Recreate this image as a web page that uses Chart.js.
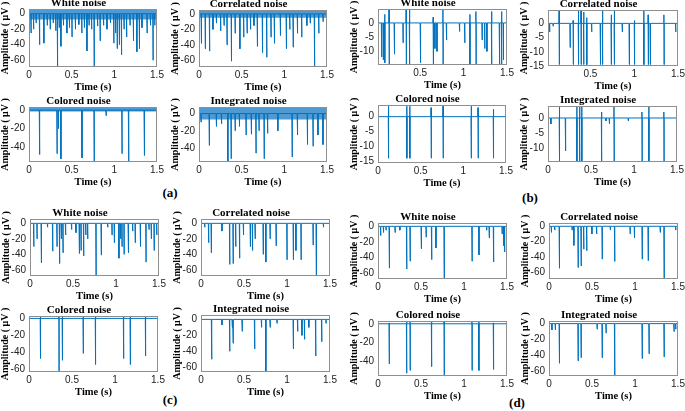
<!DOCTYPE html>
<html>
<head>
<meta charset="utf-8">
<script src="https://cdn.jsdelivr.net/npm/chart.js@4.4.1/dist/chart.umd.min.js"></script>
<style>
  body { margin: 0; width: 685px; height: 411px; position: relative; overflow: hidden; background: #fff; }
  canvas { position: absolute; }
  .lab { position: absolute; font: bold 13px 'Liberation Serif', serif; transform: translate(-50%, -50%); }
</style>
</head>
<body>
<div class="lab" style="left:170px;top:193px">(a)</div>
<div class="lab" style="left:530px;top:198px">(b)</div>
<div class="lab" style="left:170px;top:400px">(c)</div>
<div class="lab" style="left:517px;top:403px">(d)</div>
<script>
// spikes: [time (s), trough (µV), peak (µV, optional)]
// noise: [upper, lower] edge of the dense noise floor

// (a)
const aWhiteSpikes = [[0.02,-25],[0.05,-20],[0.08,-12],[0.12,-40],[0.17,-38],[0.21,-15],[0.245,-20],[0.28,-12],[0.31,-22],[0.33,-68],[0.35,-18],[0.37,-42],[0.40,-15],[0.44,-25],[0.47,-18],[0.5,-30],[0.54,-20],[0.58,-14],[0.615,-25],[0.645,-18],[0.675,-48],[0.70,-15],[0.73,-20],[0.76,-68],[0.80,-16],[0.83,-35],[0.87,-15],[0.91,-20],[0.95,-12],[0.99,-38],[1.01,-25],[1.03,-45],[1.055,-40],[1.08,-53],[1.11,-20],[1.14,-30],[1.18,-15],[1.22,-35],[1.26,-49],[1.29,-45],[1.32,-18],[1.38,-25],[1.42,-15],[1.45,-60],[1.47,-15]];
const aWhiteNoise = [5, -7.5];
const aCorrSpikes = [[0.024,-38],[0.07,-45],[0.12,-48],[0.16,-20],[0.2,-12],[0.25,-22],[0.29,-15],[0.325,-40],[0.376,-61],[0.42,-25],[0.475,-45],[0.52,-30],[0.56,-25],[0.6,-20],[0.64,-15],[0.68,-42],[0.74,-50],[0.79,-56],[0.84,-30],[0.88,-38],[0.95,-28],[1.02,-45],[1.06,-20],[1.1,-43],[1.15,-25],[1.2,-30],[1.26,-15],[1.3,-12],[1.35,-68],[1.4,-25],[1.45,-10]];
const aCorrNoise = [4, -5];
const aColoredSpikes = [[0.12,-48],[0.325,-47],[0.34,-20],[0.37,-52.7],[0.617,-51.6],[0.76,-56],[0.9,-6],[1.086,-47],[1.164,-56],[1.348,-49]];
const aColoredNoise = [3, -1.5];
const aIntegSpikes = [[0.02,-10],[0.117,-37],[0.2,-15],[0.26,-12],[0.334,-56],[0.373,-52.5],[0.42,-20],[0.47,-15],[0.548,-25],[0.61,-24],[0.664,-46],[0.7,-20],[0.76,-52.5],[0.8,-23],[0.92,-20],[1.088,-50.5],[1.15,-25],[1.267,-36],[1.333,-38],[1.39,-25],[1.449,-36]];
const aIntegNoise = [7, -7];

// (b)
const bWhiteSpikes = [[0.053,-12],[0.072,-13],[0.09,-14,3],[0.14,-14.5,4.9],[0.2,-11],[0.3,-7],[0.337,-14.5,4.9],[0.375,-14.5,4.9],[0.5,-14],[0.648,-14.5,2],[0.666,-9],[0.69,-10],[0.76,-14.5,4.9],[0.8,-6],[0.95,-3],[1.01,-7],[1.07,-14.5,3],[1.14,-14.5,4],[1.21,-6],[1.24,-9],[1.265,-10],[1.32,-14.5,4],[1.41,-14.5],[1.435,-14.5,4],[1.455,-13]];
const bCorrSpikes = [[0.03,-3],[0.07,-1],[0.14,-14.5,4.5],[0.264,-8.5],[0.3,-14.5,1],[0.36,-14.5,4.5],[0.39,-14.5,4.5],[0.42,-14.5,4],[0.455,-14.5,2],[0.51,-3],[0.61,-14.5],[0.635,-14.5,4.5],[0.735,-14.5,3],[0.77,-14.5,4.5],[0.86,-3],[0.94,-14.5],[1.0,-14.5,1],[1.107,-14.5,4.5],[1.157,-14.5,3],[1.18,-14.5],[1.337,-14.5,3],[1.47,-3]];
const bColoredSpikes = [[0.12,-13.9,3.5],[0.335,-13.9,3.5],[0.37,-13.9,3.5],[0.62,-13.9,3],[0.76,-13.9,3.5],[1.09,-13.9,3.5],[1.17,-13.9,3],[1.35,-13.9,2.5]];
const bIntegSpikes = [[0.03,-2],[0.13,-14.5,4],[0.2,-11],[0.333,-14.5,4],[0.365,-14.5,4],[0.39,-14.5,4],[0.62,-14.5,2],[0.67,-1],[0.71,-2],[0.765,-14.5,4],[0.93,-1],[1.09,-14.5,2],[1.17,-14.5,4],[1.345,-14.5,2]];

// (c)
const cWhiteSpikes = [[0.04,-30],[0.078,-20],[0.128,-51],[0.2,-5],[0.26,-36],[0.31,-30],[0.34,-52],[0.36,-20],[0.38,-38],[0.41,-15],[0.48,-8],[0.53,-12],[0.57,-39],[0.59,-35],[0.62,-42],[0.645,-15],[0.667,-20],[0.764,-68],[0.825,-41],[0.9,-5],[0.95,-15],[0.977,-25],[1.03,-45],[1.05,-20],[1.066,-30],[1.09,-40],[1.14,-38],[1.19,-10],[1.22,-25],[1.28,-30],[1.345,-50],[1.38,-8],[1.407,-20],[1.44,-35],[1.47,-15]];
const cCorrSpikes = [[0.04,-5],[0.085,-25],[0.116,-38],[0.24,-10],[0.33,-53],[0.37,-52],[0.4,-30],[0.445,-45],[0.49,-15],[0.57,-30],[0.595,-35],[0.626,-20],[0.72,-40],[0.75,-50],[0.8,-20],[0.87,-29],[0.996,-47],[1.07,-47],[1.1,-35],[1.16,-47],[1.3,-28],[1.337,-68],[1.42,-5]];
const cColoredSpikes = [[0.13,-47,2],[0.345,-62.7,2.8],[0.385,-49,2.8],[0.628,-41,2.8],[0.77,-54,2.8],[1.097,-47,2.8],[1.175,-54,2.5],[1.352,-44,2]];
const cIntegSpikes = [[0.12,-50],[0.24,-7],[0.33,-40],[0.36,-10],[0.37,-30],[0.475,-15],[0.62,-37],[0.7,-10],[0.75,-66],[0.8,-10],[0.88,-5],[1.07,-37],[1.12,-15],[1.17,-20],[1.2,-25],[1.25,-10],[1.33,-46],[1.4,-28],[1.45,-5]];

// (d)
const dWhiteSpikes = [[0.027,-12],[0.06,-8],[0.09,-5],[0.128,-54],[0.195,-8],[0.25,-5],[0.33,-55],[0.37,-45],[0.5,-29],[0.556,-14],[0.62,-43],[0.67,-28],[0.766,-68],[1.09,-45],[1.17,-37],[1.26,-5],[1.29,-15],[1.34,-46],[1.44,-10],[1.46,-25],[1.47,-33]];
const dCorrSpikes = [[0.024,-8],[0.063,-5],[0.117,-55],[0.265,-5],[0.285,-25],[0.335,-54],[0.37,-52],[0.4,-30],[0.435,-32],[0.495,-10],[0.55,-10],[0.615,-43],[0.71,-5],[0.76,-46],[0.94,-10],[0.99,-15],[1.08,-43],[1.15,-45],[1.29,-8],[1.335,-69],[1.47,-5]];
const dColoredSpikes = [[0.128,-43,1],[0.33,-53,3],[0.37,-50,3],[0.62,-46,3],[0.766,-56,3],[1.09,-50,3],[1.17,-50,3],[1.34,-49,1]];
const dIntegSpikes = [[0.03,-8],[0.07,-8],[0.117,-50],[0.335,-47],[0.37,-43],[0.556,-7],[0.615,-43],[0.66,-12],[0.76,-66],[1.08,-44],[1.16,-38],[1.335,-42],[1.45,-10],[1.47,-7]];

// axis limits per panel: [xMin, xMax], [yMin, yMax], y tick step
const panels = [
  { key: 'aW', title: 'White noise',      spikes: aWhiteSpikes,   noise: aWhiteNoise,   x: [0, 1.5],     y: [-68.7, 6],   step: 20 },
  { key: 'aC', title: 'Correlated noise', spikes: aCorrSpikes,    noise: aCorrNoise,    x: [0, 1.5],     y: [-68.5, 5],   step: 20 },
  { key: 'aO', title: 'Colored noise',    spikes: aColoredSpikes, noise: aColoredNoise, x: [0, 1.5],     y: [-56, 3.4],   step: 20 },
  { key: 'aI', title: 'Integrated noise', spikes: aIntegSpikes,   noise: aIntegNoise,   x: [0, 1.5],     y: [-56.3, 7.6], step: 20 },
  { key: 'bW', title: 'White noise',      spikes: bWhiteSpikes,   x: [0.015, 1.5], y: [-14.8, 4.9], step: 5 },
  { key: 'bC', title: 'Correlated noise', spikes: bCorrSpikes,    x: [0.015, 1.5], y: [-15, 4.7],   step: 5 },
  { key: 'bO', title: 'Colored noise',    spikes: bColoredSpikes, x: [0, 1.5],     y: [-15.5, 3.9], step: 5 },
  { key: 'bI', title: 'Integrated noise', spikes: bIntegSpikes,   x: [0, 1.5],     y: [-14.7, 4],   step: 5 },
  { key: 'cW', title: 'White noise',      spikes: cWhiteSpikes,   x: [0, 1.5],     y: [-68, 5.6],   step: 20 },
  { key: 'cC', title: 'Correlated noise', spikes: cCorrSpikes,    x: [0, 1.5],     y: [-68, 5.6],   step: 20 },
  { key: 'cO', title: 'Colored noise',    spikes: cColoredSpikes, x: [0, 1.5],     y: [-62.7, 2.8], step: 20 },
  { key: 'cI', title: 'Integrated noise', spikes: cIntegSpikes,   x: [0, 1.5],     y: [-66, 5.5],   step: 20 },
  { key: 'dW', title: 'White noise',      spikes: dWhiteSpikes,   x: [0, 1.5],     y: [-68, 4.3],   step: 20 },
  { key: 'dC', title: 'Correlated noise', spikes: dCorrSpikes,    x: [0, 1.5],     y: [-69, 4.3],   step: 20 },
  { key: 'dO', title: 'Colored noise',    spikes: dColoredSpikes, x: [0, 1.5],     y: [-56, 3],     step: 20 },
  { key: 'dI', title: 'Integrated noise', spikes: dIntegSpikes,   x: [0, 1.5],     y: [-66, 3.3],   step: 20 },
];

// plot box on the page: left, top, right, bottom (px)
const boxes = {
  aW: [29, 9, 157, 67],   aC: [199, 10, 327, 67],  aO: [29, 107, 157, 162], aI: [199, 107, 327, 162],
  bW: [378, 9, 507, 65],  bC: [548, 10, 678, 66],  bO: [378, 105, 506, 163], bI: [548, 106, 677, 162],
  cW: [30, 219, 159, 276], cC: [201, 219, 330, 276], cO: [29, 316, 158, 372], cI: [201, 315, 330, 372],
  dW: [378, 223, 507, 279], dC: [549, 223, 678, 279], dO: [378, 321, 507, 376], dI: [549, 321, 678, 376],
};

const Y_W = 29, T_H = 11, X_H = 27, R_PAD = 9;
const BLUE = '#0072BD';

const boxBorder = {
  id: 'boxBorder',
  afterDraw(chart) {
    const { ctx, chartArea: a } = chart;
    ctx.save();
    ctx.strokeStyle = '#8f8f8f';
    ctx.lineWidth = 1;
    ctx.strokeRect(Math.round(a.left) + 0.5, Math.round(a.top) + 0.5, Math.round(a.width) - 1, Math.round(a.height) - 1);
    ctx.restore();
  }
};

function trace(spikes, x0, x1) {
  const pts = [{ x: x0, y: 0 }];
  spikes.slice().sort((p, q) => p[0] - q[0]).forEach(([t, lo, hi]) => {
    pts.push({ x: t, y: 0 });
    if (hi !== undefined) pts.push({ x: t + 0.002, y: hi });
    pts.push({ x: t + 0.004, y: lo }, { x: t + 0.006, y: 0 });
  });
  pts.push({ x: x1, y: 0 });
  return pts;
}

const serif = 'Liberation Serif';
const sans = 'Liberation Sans';
const plainNum = v => String(Math.round(v * 100) / 100);

panels.forEach(p => {
  const [l, t, r, b] = boxes[p.key];
  const w = r - l + Y_W + R_PAD, h = b - t + T_H + X_H;
  const c = document.createElement('canvas');
  c.width = w; c.height = h;
  c.style.left = (l - Y_W) + 'px';
  c.style.top = (t - T_H) + 'px';
  c.style.width = w + 'px';
  c.style.height = h + 'px';
  document.body.appendChild(c);

  const datasets = [{
    data: trace(p.spikes, p.x[0], p.x[1]),
    borderColor: BLUE, borderWidth: 1, pointRadius: 0, fill: false, order: 0
  }];
  if (p.noise) {
    datasets.push(
      { data: [{ x: p.x[0], y: p.noise[0] }, { x: p.x[1], y: p.noise[0] }],
        borderColor: 'transparent', borderWidth: 0, pointRadius: 0, fill: false, order: 1 },
      { data: [{ x: p.x[0], y: p.noise[1] }, { x: p.x[1], y: p.noise[1] }],
        borderColor: 'transparent', borderWidth: 0, pointRadius: 0,
        fill: '-1', backgroundColor: 'rgba(20,120,195,0.75)', order: 1 }
    );
  }

  new Chart(c, {
    type: 'line',
    data: { datasets },
    plugins: [boxBorder],
    options: {
      responsive: false,
      animation: false,
      layout: { padding: { left: 0, right: R_PAD, top: 0, bottom: 0 } },
      plugins: {
        legend: { display: false },
        tooltip: { enabled: false },
        title: {
          display: true, text: p.title, color: '#000',
          font: { family: serif, size: 11, weight: 'bold', lineHeight: 1 },
          padding: { top: 0, bottom: 0 }
        }
      },
      scales: {
        x: {
          type: 'linear', min: p.x[0], max: p.x[1],
          grid: { display: false, drawTicks: false },
          border: { display: false },
          ticks: { stepSize: 0.5, includeBounds: false, maxRotation: 0, autoSkip: false, padding: 2,
                   color: '#222', font: { family: sans, size: 10 }, callback: plainNum },
          title: { display: true, text: 'Time (s)', color: '#000',
                   font: { family: serif, size: 10.5, weight: 'bold', lineHeight: 1 }, padding: { top: 0, bottom: 1.5 } },
          afterFit: s => { s.height = X_H; }
        },
        y: {
          min: p.y[0], max: p.y[1],
          grid: { display: false, drawTicks: false },
          border: { display: false },
          ticks: { stepSize: p.step, includeBounds: false, autoSkip: false, padding: 4,
                   color: '#222', font: { family: sans, size: 10 }, callback: plainNum },
          title: { display: true, text: 'Amplitude ( μV )', color: '#000',
                   font: { family: serif, size: 10, weight: 'bold', lineHeight: 1 }, padding: { top: 0, bottom: 0 } },
          afterFit: s => { s.width = Y_W; }
        }
      }
    }
  });
});
</script>
</body>
</html>
